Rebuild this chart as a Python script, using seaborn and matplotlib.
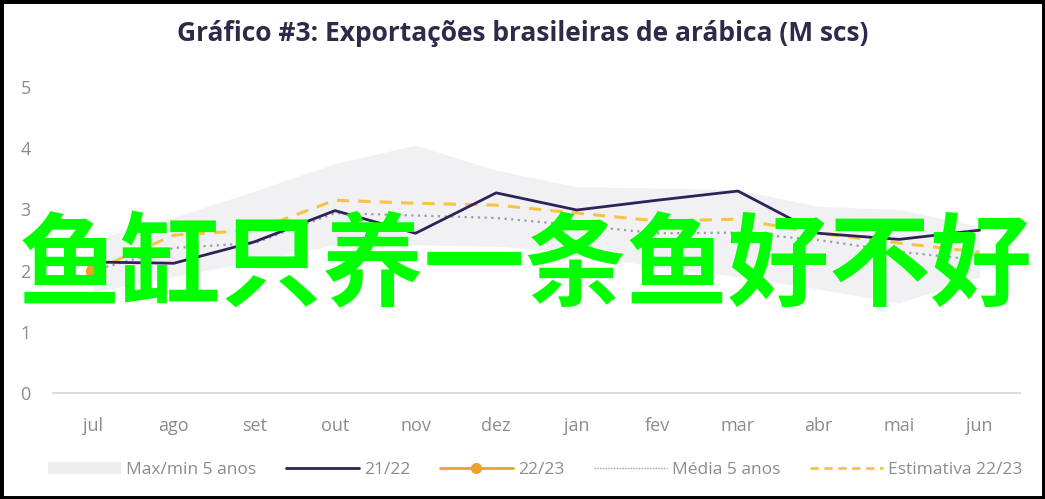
import numpy as np
import pandas as pd
import matplotlib
matplotlib.use('Agg')
import matplotlib.pyplot as plt
import seaborn as sns
from matplotlib.lines import Line2D
from matplotlib.patches import Patch, Rectangle

# ------------------------------------------------------------------
# Data (M scs)
# ------------------------------------------------------------------
months = ['jul', 'ago', 'set', 'out', 'nov', 'dez', 'jan', 'fev', 'mar', 'abr', 'mai', 'jun']
band_max = [2.5, 2.87, 3.3, 3.75, 4.05, 3.64, 3.37, 3.35, 3.32, 3.05, 3.0, 2.72]
band_min = [1.65, 1.9, 2.15, 2.42, 2.42, 2.4, 2.3, 2.05, 1.9, 1.7, 1.47, 1.9]
safra_2122 = [2.14, 2.12, 2.47, 2.98, 2.61, 3.27, 2.99, 3.15, 3.30, 2.61, 2.51, 2.66]
safra_2223 = [2.0]
media_5 = [2.0, 2.37, 2.45, 2.94, 2.9, 2.86, 2.74, 2.61, 2.62, 2.5, 2.31, 2.17]
estimativa = [2.0, 2.58, 2.66, 3.15, 3.1, 3.07, 2.94, 2.81, 2.84, 2.61, 2.45, 2.30]

x = np.arange(len(months))
df = pd.DataFrame({'pos': x, '21/22': safra_2122, 'media': media_5, 'estimativa': estimativa})

NAVY = '#2e2358'
ORANGE = '#f0a02c'
YELLOW = '#f6c445'
DOTGREY = '#9c9cab'
BAND = '#f1f1f3'
TICKGREY = '#8c8c8c'

sns.set_style('white')
plt.rcParams['font.family'] = ['Open Sans', 'DejaVu Sans']

fig = plt.figure(figsize=(10.45, 4.99), dpi=100)
ax = fig.add_axes([0.0507, 0.2124, 0.9253, 0.6133])

ax.fill_between(x, band_min, band_max, color=BAND, lw=0, zorder=1)
sns.lineplot(data=df, x='pos', y='media', ax=ax, color=DOTGREY, lw=1.6,
             linestyle=(0, (1, 2)), zorder=2)
sns.lineplot(data=df, x='pos', y='estimativa', ax=ax, color=YELLOW, lw=2.2,
             linestyle=(0, (4, 3)), zorder=3)
sns.lineplot(data=df, x='pos', y='21/22', ax=ax, color=NAVY, lw=2, zorder=4)
ax.plot(x[:len(safra_2223)], safra_2223, color=ORANGE, marker='o', ms=10, zorder=5)

ax.set_xlim(-0.5, 11.5)
ax.set_ylim(0, 5)
ax.set_xticks(x)
ax.set_xticklabels(months)
ax.set_yticks([0, 1, 2, 3, 4, 5])
ax.set_xlabel('')
ax.set_ylabel('')
ax.tick_params(axis='x', length=0, pad=17, labelsize=13, labelcolor=TICKGREY)
ax.tick_params(axis='y', length=0, pad=16, labelsize=13, labelcolor=TICKGREY)
for s in ['top', 'right', 'left']:
    ax.spines[s].set_visible(False)
ax.spines['bottom'].set_color('#dcdcdc')
ax.spines['bottom'].set_linewidth(1.5)

fig.text(0.5, 0.932, 'Gráfico #3: Exportações brasileiras de arábica (M scs)',
         ha='center', va='center', fontsize=19, fontweight='bold', color='#2d2a4a')

handles = [
    Patch(facecolor='#eeeeee', edgecolor='none'),
    Line2D([], [], color=NAVY, lw=2),
    Line2D([], [], color=ORANGE, lw=2, marker='o', ms=7),
    Line2D([], [], color=DOTGREY, lw=1, linestyle=(0, (1, 1))),
    Line2D([], [], color=YELLOW, lw=2, linestyle=(0, (3, 2))),
]
labels = ['Max/min 5 anos', '21/22', '22/23', 'Média 5 anos', 'Estimativa 22/23']
leg = fig.legend(handles, labels, loc='center', bbox_to_anchor=(0.512, 0.058), ncol=5,
                 frameon=False, fontsize=12.5, handlelength=4.2, handletextpad=0.3,
                 columnspacing=1.7)
for t in leg.get_texts():
    t.set_color(TICKGREY)

# overlay text in the picture
fig.text(0.503, 0.462, '鱼缸只养一条鱼好不好', ha='center', va='center',
         fontsize=73, fontweight='bold', color='#00ff00',
         family=['Noto Sans CJK SC', 'DejaVu Sans'], zorder=10)

fig.patches.append(Rectangle((0, 0), 1, 1, transform=fig.transFigure, fill=False,
                             edgecolor='black', lw=5, zorder=20))

plt.savefig('out.png', dpi=100)
